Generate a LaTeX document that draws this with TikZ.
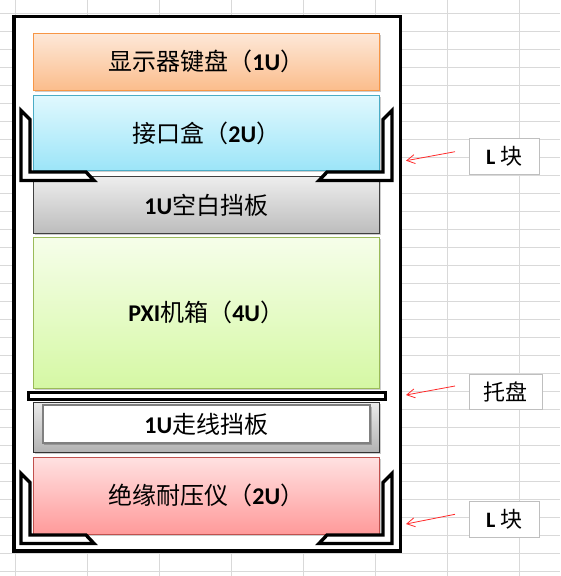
\documentclass[tikz,border=0pt]{standalone}
\usepackage{fontspec}
\setmainfont{Carlito}
\newfontfamily\zhfont{Noto Sans CJK SC}
\newcommand\zh[1]{{\zhfont\mdseries #1}}
\usetikzlibrary{arrows.meta,shadows}

\definecolor{gridgray}{HTML}{D9D9D9}
\definecolor{taggray}{HTML}{BFBFBF}
\definecolor{arrowred}{HTML}{FF2A2A}
\definecolor{kbdtop}{HTML}{FDE8D8}
\definecolor{kbdbot}{HTML}{FBBD8C}
\definecolor{kbdline}{HTML}{F79646}
\definecolor{iftop}{HTML}{E0F8FE}
\definecolor{ifbot}{HTML}{9CE5F8}
\definecolor{ifline}{HTML}{4BACC6}
\definecolor{pxitop}{HTML}{F6FEEA}
\definecolor{pxibot}{HTML}{D5F8A4}
\definecolor{pxiline}{HTML}{9BBB59}
\definecolor{instop}{HTML}{FFE1E1}
\definecolor{insbot}{HTML}{FF9A9A}
\definecolor{insline}{HTML}{C0504D}

\begin{document}
\begin{tikzpicture}[x=1pt,y=-1pt,
    grid/.style={draw=gridgray,line width=0.8pt},
    unit/.style={draw,line width=0.9pt,minimum width=345.5pt,inner sep=0pt,
      font=\fontsize{24}{27}\selectfont\bfseries,
      drop shadow={shadow xshift=1.5pt,shadow yshift=-1.5pt,opacity=0.2,fill=black}},
    lblock/.style={draw=black,fill=white,line width=3.4pt,line join=miter},
    tag/.style={draw=taggray,fill=white,line width=1pt,minimum width=70pt,
      minimum height=36pt,inner sep=0pt,font=\fontsize{22}{24}\selectfont\bfseries},
    pointer/.style={draw=arrowred,line width=0.8pt,-{Straight Barb[length=8pt,width=9pt]}}]
    \useasboundingbox (0,0) rectangle (560,576);
    % sheet grid
    \foreach \i in {0,...,7}
        \draw[grid] ({15.7+72*\i},0) -- ({15.7+72*\i},576);
    \foreach \j in {0,...,31}
        \draw[grid] (0,{13.3+17.99*\j}) -- (560,{13.3+17.99*\j});
    % rack
    \draw[line width=3.5pt,fill=white] (14,16.5) rectangle (400.5,551);
    \node[unit,draw=kbdline,top color=kbdtop,bottom color=kbdbot,
        minimum height=56.7pt] (kbd) at (206.25,61.7) {\zh{显示器键盘（}1U\zh{）}};
    \node[unit,draw=ifline,top color=iftop,bottom color=ifbot,
        minimum height=75pt] (iface) at (206.25,133.2) {\zh{接口盒（}2U\zh{）}};
    \node[unit,draw=black!75,top color=black!7,bottom color=black!26,
        minimum height=56.6pt] (blank) at (206.25,205) {1U\zh{空白挡板}};
    \node[unit,draw=pxiline,top color=pxitop,bottom color=pxibot,
        minimum height=150.7pt] (pxi) at (206.25,312.7) {PXI\zh{机箱（}4U\zh{）}};
    \node[unit,draw=black!80,top color=black!8,bottom color=black!30,
        minimum height=50.3pt] (cable) at (206.25,427.2) {};
    \node[unit,draw=black!50,fill=white,line width=1.8pt,minimum width=327.3pt,
        minimum height=38pt,drop shadow={opacity=0}] (cableIn) at (206.35,424) {1U\zh{走线挡板}};
    \node[unit,draw=insline,top color=instop,bottom color=insbot,
        minimum height=76.7pt] (insul) at (206.25,495.7) {\zh{绝缘耐压仪（}2U\zh{）}};
    % tray
    \draw[line width=3.2pt,fill=white] (28.3,392.3) rectangle (385.7,399.4);
    % L blocks
    \foreach \yy in {0,363} {
        \draw[lblock] (21,110.5+\yy) -- (30,119.5+\yy) -- (30,172+\yy) -- (86,172+\yy)
            -- (94,180.5+\yy) -- (21,180.5+\yy) -- cycle;
        \draw[lblock] (392,110.5+\yy) -- (383,119.5+\yy) -- (383,172+\yy) -- (327,172+\yy)
            -- (319,180.5+\yy) -- (392,180.5+\yy) -- cycle;
    }
    % labels
    \node[tag] (lblA) at (504.3,156.3) {L \zh{块}};
    \node[tag,minimum width=73pt,minimum height=35pt] (lblB) at (505.8,391.5) {\zh{托盘}};
    \node[tag] (lblC) at (504.3,519.5) {L \zh{块}};
    \coordinate (tailA) at (455,151.7);
    \coordinate (tipA) at (406,160.7);
    \coordinate (tailB) at (455,386);
    \coordinate (tipB) at (406,395);
    \coordinate (tailC) at (455,514.3);
    \coordinate (tipC) at (406,524);
    \foreach \n in {A,B,C}
        \draw[pointer] (tail\n) -- (tip\n);
\end{tikzpicture}
\end{document}
